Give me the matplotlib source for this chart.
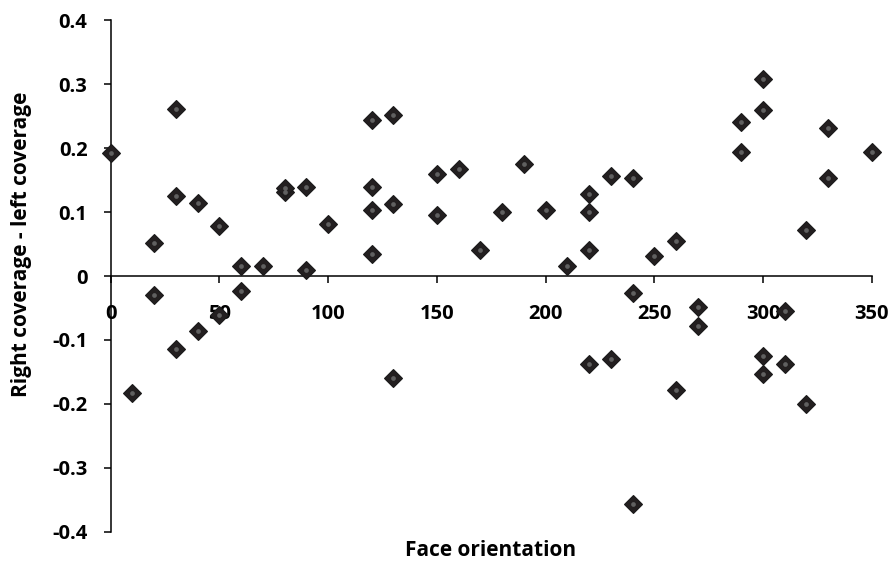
import matplotlib.pyplot as plt

# face orientation (deg) and right - left coverage
orientation = [0, 10, 20, 20, 30, 30, 30, 40, 40, 50, 50, 60, 60, 70, 80, 80,
               90, 90, 100, 120, 120, 120, 120, 130, 130, 130, 150, 150, 160,
               170, 180, 190, 200, 210, 220, 220, 220, 220, 230, 230, 240,
               240, 240, 250, 260, 260, 270, 270, 290, 290, 300, 300, 300,
               300, 310, 310, 320, 320, 330, 330, 350]
coverage_diff = [0.193, -0.183, 0.052, -0.029, 0.262, 0.125, -0.115, 0.114,
                 -0.086, 0.078, -0.061, 0.016, -0.024, 0.016, 0.132, 0.137,
                 0.139, 0.010, 0.081, 0.244, 0.139, 0.103, 0.035, 0.252,
                 0.112, -0.160, 0.159, 0.096, 0.167, 0.040, 0.100, 0.176,
                 0.103, 0.015, 0.128, 0.100, 0.041, -0.137, 0.157, -0.130,
                 0.154, -0.027, -0.357, 0.032, 0.055, -0.178, -0.048, -0.079,
                 0.241, 0.194, 0.309, 0.260, -0.125, -0.154, -0.054, -0.137,
                 0.072, -0.201, 0.231, 0.154, 0.194]

x_ticks = [0, 50, 100, 150, 200, 250, 300, 350]
y_ticks = [-0.4, -0.3, -0.2, -0.1, 0, 0.1, 0.2, 0.3, 0.4]
y_tick_labels = ["-0.4", "-0.3", "-0.2", "-0.1", "0", "0.1", "0.2", "0.3", "0.4"]

plt.rcParams['font.family'] = ['Open Sans', 'DejaVu Sans']
plt.rcParams['font.weight'] = 'bold'

fig = plt.figure(figsize=(8.9, 5.61), dpi=100)
ax = fig.add_axes([0.1244, 0.0524, 0.855, 0.9112])

ax.plot(orientation, coverage_diff, linestyle='none', marker='D',
        markersize=9, color='#231f20', markeredgecolor='#1a1a1a',
        markeredgewidth=0.8, clip_on=False, zorder=3)
ax.plot(orientation, coverage_diff, linestyle='none', marker='o',
        markersize=3.4, color='#606060', markeredgewidth=0,
        clip_on=False, zorder=4)

ax.set_xlim(0, 350)
ax.set_ylim(-0.4, 0.4)

ax.spines['top'].set_visible(False)
ax.spines['right'].set_visible(False)
ax.spines['bottom'].set_position(('data', 0))
for s in ['left', 'bottom']:
    ax.spines[s].set_linewidth(1.1)
    ax.spines[s].set_zorder(2)

ax.set_xticks(x_ticks)
ax.set_xticklabels([str(v) for v in x_ticks])
ax.set_yticks(y_ticks)
ax.set_yticklabels(y_tick_labels)

ax.tick_params(axis='x', direction='out', length=5.3, width=1.1,
               pad=15, labelsize=14.5)
ax.tick_params(axis='y', direction='out', length=5.3, width=1.1,
               pad=11.5, labelsize=14.5)

fig.text(491 / 890, 1 - 551 / 561, "Face orientation",
         ha='center', va='center', fontsize=15, fontweight='bold')
fig.text(22 / 890, 1 - 244 / 561, "Right coverage - left coverage",
         ha='center', va='center', rotation=90, fontsize=15,
         fontweight='bold')

fig.savefig("out.png", dpi=100)
plt.close(fig)
